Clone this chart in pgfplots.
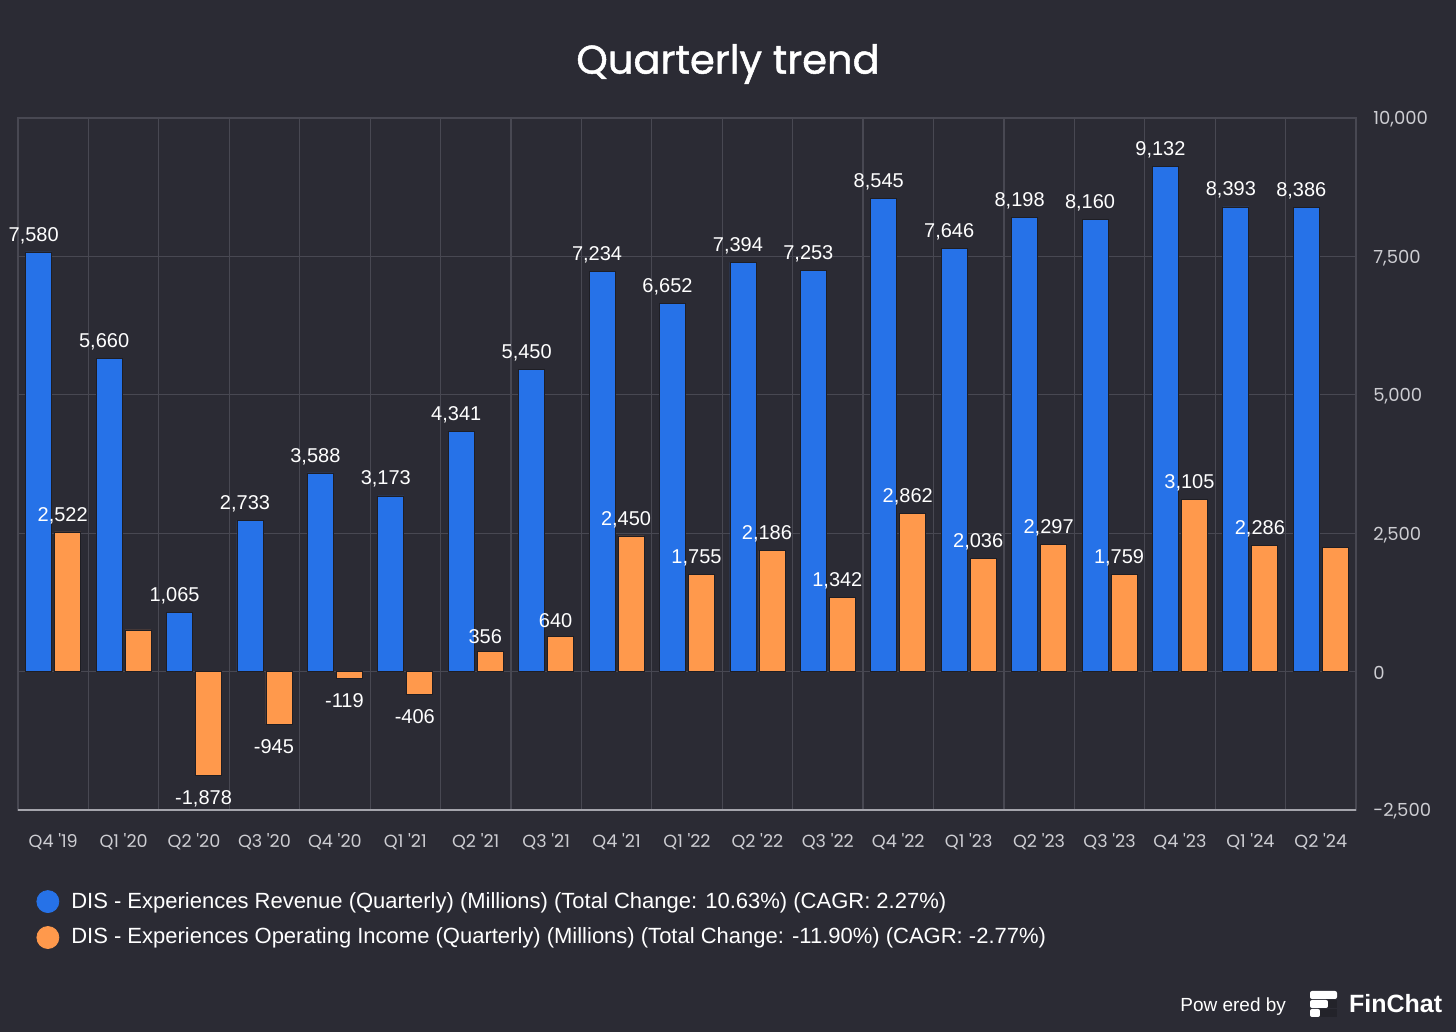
\documentclass[border=0pt]{standalone}
\usepackage{fontspec}
\setmainfont{Liberation Sans}
\newfontfamily\pop{Poppins}
\newfontfamily\popt{Poppins}[FakeBold=1.2]
\usepackage{pgfplots}
\usepackage{pgfplotstable}
\pgfplotsset{compat=1.18}
\definecolor{bgc}{RGB}{43,43,52}
\definecolor{gridc}{RGB}{72,72,82}
\definecolor{axc}{RGB}{165,165,172}
\definecolor{tickc}{RGB}{205,205,210}
\definecolor{blu}{RGB}{38,114,232}
\definecolor{ora}{RGB}{255,153,76}
\definecolor{edgec}{RGB}{30,30,36}
\pgfplotstableread{
x rev revl op opl
0 7580 7,580 2522 2,522
1 5660 5,660 752 {}
2 1065 1,065 -1878 -1,878
3 2733 2,733 -945 -945
4 3588 3,588 -119 -119
5 3173 3,173 -406 -406
6 4341 4,341 356 356
7 5450 5,450 640 640
8 7234 7,234 2450 2,450
9 6652 6,652 1755 1,755
10 7394 7,394 2186 2,186
11 7253 7,253 1342 1,342
12 8545 8,545 2862 2,862
13 7646 7,646 2036 2,036
14 8198 8,198 2297 2,297
15 8160 8,160 1759 1,759
16 9132 9,132 3105 3,105
17 8393 8,393 2286 2,286
18 8386 8,386 2240 {}
}\datatable
\begin{document}
\begin{tikzpicture}
\fill[bgc] (0,0) rectangle (728pt,516pt);
\node[text=white, font=\popt\fontsize{20}{24}\selectfont] at (364pt,484pt) {Quarterly trend};
\begin{axis}[
  at={(9pt,111pt)}, anchor=south west,
  scale only axis, width=669pt, height=346pt,
  clip=false,
  xmin=-0.5, xmax=18.5, ymin=-2500, ymax=10000,
  scaled y ticks=false,
  ybar=1.5pt, bar width=13pt,
  axis line style={draw=gridc, line width=0.6pt},
  xtick={0,...,18},
  xticklabels={Q4 {\textquotesingle}19,Q1 {\textquotesingle}20,Q2 {\textquotesingle}20,Q3 {\textquotesingle}20,Q4 {\textquotesingle}20,Q1 {\textquotesingle}21,Q2 {\textquotesingle}21,Q3 {\textquotesingle}21,Q4 {\textquotesingle}21,Q1 {\textquotesingle}22,Q2 {\textquotesingle}22,Q3 {\textquotesingle}22,Q4 {\textquotesingle}22,Q1 {\textquotesingle}23,Q2 {\textquotesingle}23,Q3 {\textquotesingle}23,Q4 {\textquotesingle}23,Q1 {\textquotesingle}24,Q2 {\textquotesingle}24},
  minor xtick={-0.5,0.5,1.5,2.5,3.5,4.5,5.5,6.5,7.5,8.5,9.5,10.5,11.5,12.5,13.5,14.5,15.5,16.5,17.5,18.5},
  xminorgrids,
  minor grid style={draw=gridc, line width=0.6pt},
  ytick={-2500,0,2500,5000,7500,10000},
  yticklabels={{-2,500},{0},{2,500},{5,000},{7,500},{10,000}},
  ymajorgrids,
  major grid style={draw=gridc, line width=0.6pt},
  yticklabel pos=right,
  tick style={draw=none},
  xticklabel style={font=\pop\fontsize{8.8}{10}\selectfont, text=tickc, anchor=north, inner sep=0pt, yshift=-7.5pt},
  yticklabel style={font=\pop\fontsize{9}{10}\selectfont, text=tickc, anchor=west, inner sep=0pt, xshift=8.5pt, yshift=-0.8pt},
  point meta=explicit symbolic,
  visualization depends on={rawy \as \rawy},
  nodes near coords,
  every node near coord/.append style={font=\fontsize{10}{12}\selectfont, text=white, inner sep=4pt, xshift=-2.5pt,
     /utils/exec={\ifdim\rawy pt<0pt \def\myanch{north}\def\mysh{-3.5pt}\else\def\myanch{south}\def\mysh{0pt}\fi},
     anchor=\myanch, yshift=\mysh},
  legend style={at={(0.0135,-0.1123)}, anchor=north west, draw=none, fill=none, text=white,
     font=\fontsize{11}{13}\selectfont, row sep=4.5pt, inner sep=0pt,
     /tikz/every odd column/.append style={column sep=4pt}},
  legend cell align=left,
]
\addplot[fill=blu, draw=edgec, line width=0.4pt,
  legend image code/.code={\fill[blu] (5.5pt,0pt) circle (5.5pt);}]
  table[x=x, y=rev, meta=revl]{\datatable};
\addlegendentry{DIS - Experiences Revenue (Quarterly) (Millions) (Total Change: 10.63\%) (CAGR: 2.27\%)}
\addplot[fill=ora, draw=edgec, line width=0.4pt,
  legend image code/.code={\fill[ora] (5.5pt,0pt) circle (5.5pt);}]
  table[x=x, y=op, meta=opl]{\datatable};
\addlegendentry{DIS - Experiences Operating Income (Quarterly) (Millions) (Total Change: -11.90\%) (CAGR: -2.77\%)}
\draw[axc, line width=1pt] (rel axis cs:0,0) -- (rel axis cs:1,0);
\end{axis}
\node[anchor=east, text=white, font=\fontsize{9.5}{11}\selectfont] at (646.5pt,12.5pt) {Pow ered by};
\fill[white, rounded corners=1pt] (655pt,20.5pt) rectangle (668.5pt,16.5pt);
\fill[white, rounded corners=1pt] (655pt,16pt) rectangle (664pt,12pt);
\fill[edgec!60!bgc] (664pt,16pt) rectangle (668.5pt,12pt);
\fill[white, rounded corners=1pt] (655pt,11.5pt) rectangle (660pt,7.5pt);
\fill[edgec!60!bgc] (660pt,11.5pt) rectangle (668.5pt,7.5pt);
\node[anchor=west, text=white, font=\bfseries\fontsize{12.5}{14}\selectfont] at (671pt,14pt) {FinChat};
\end{tikzpicture}
\end{document}
